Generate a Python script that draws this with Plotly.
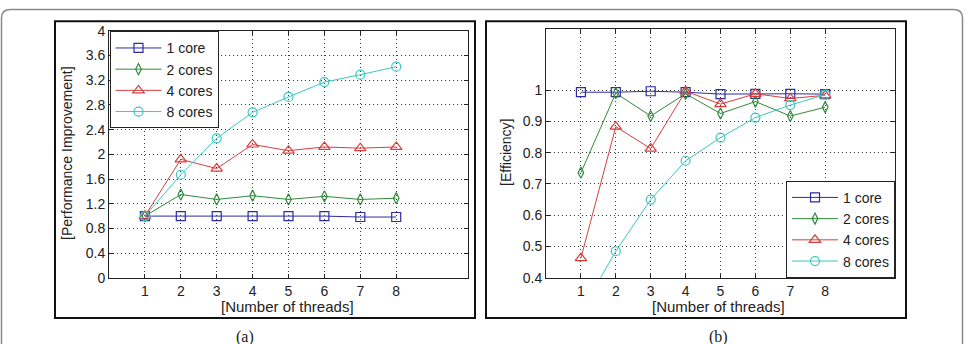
import plotly.graph_objects as go

W, H = 971, 344

threads = [1, 2, 3, 4, 5, 6, 7, 8]
series_names = ["1 core", "2 cores", "4 cores", "8 cores"]

perf_1core = [1.0, 1.0, 1.0, 1.0, 1.0, 1.0, 0.985, 0.985]
perf_2cores = [1.0, 1.35, 1.27, 1.33, 1.27, 1.32, 1.27, 1.29]
perf_4cores = [1.0, 1.92, 1.77, 2.16, 2.06, 2.12, 2.10, 2.12]
perf_8cores = [1.0, 1.67, 2.26, 2.68, 2.93, 3.17, 3.29, 3.42]

eff_1core = [0.993, 0.993, 0.996, 0.993, 0.987, 0.988, 0.988, 0.987]
eff_2cores = [0.736, 0.990, 0.917, 0.988, 0.925, 0.963, 0.917, 0.945]
eff_4cores = [0.463, 0.883, 0.813, 0.996, 0.955, 0.988, 0.973, 0.983]
eff_8cores = [0.29, 0.485, 0.650, 0.774, 0.848, 0.912, 0.952, 0.985]

perf_ticks = [0, 0.4, 0.8, 1.2, 1.6, 2, 2.4, 2.8, 3.2, 3.6, 4]
perf_ticktext = ["0", "0.4", "0.8", "1.2", "1.6", "2", "2.4", "2.8", "3.2", "3.6", "4"]
eff_ticks = [0.4, 0.5, 0.6, 0.7, 0.8, 0.9, 1.0]
eff_ticktext = ["0.4", "0.5", "0.6", "0.7", "0.8", "0.9", "1"]

colors = ["#2c2ca6", "#2e8a3a", "#d63e3e", "#3cc6c0"]
symbols = ["square-open", "diamond-tall-open", "triangle-up-open", "circle-open"]
sizes = [9, 8, 10, 9]

FONT = "Liberation Sans, Arial, sans-serif"
INK = "#222"


def px_x(p):
    return p / W


def px_y(p):
    return 1 - p / H


fig = go.Figure()

perf = [perf_1core, perf_2cores, perf_4cores, perf_8cores]
eff = [eff_1core, eff_2cores, eff_4cores, eff_8cores]

for i in range(4):
    fig.add_trace(go.Scatter(
        x=threads, y=perf[i], name=series_names[i], mode="lines+markers",
        line=dict(color=colors[i], width=1),
        marker=dict(symbol=symbols[i], size=sizes[i], color=colors[i], line=dict(width=1.2, color=colors[i])),
        xaxis="x", yaxis="y", legend="legend", cliponaxis=True,
    ))
for i in range(4):
    fig.add_trace(go.Scatter(
        x=threads, y=eff[i], name=series_names[i], mode="lines+markers",
        line=dict(color=colors[i], width=1),
        marker=dict(symbol=symbols[i], size=sizes[i], color=colors[i], line=dict(width=1.2, color=colors[i])),
        xaxis="x2", yaxis="y2", legend="legend2", cliponaxis=True,
    ))

axis_common = dict(
    showline=True, mirror="ticks", linecolor=INK, linewidth=1,
    showgrid=True, gridcolor="#3a3a3a", griddash="1px,3px", gridwidth=1,
    ticks="inside", ticklen=4, tickcolor=INK,
    zeroline=False, tickfont=dict(family=FONT, size=14, color=INK),
)

legend_common = dict(
    bgcolor="white", bordercolor=INK, borderwidth=1,
    font=dict(family=FONT, size=14, color=INK), tracegroupgap=0,
    itemwidth=46,
)

fig.update_layout(
    width=W, height=H,
    margin=dict(l=0, r=0, t=0, b=0),
    paper_bgcolor="white", plot_bgcolor="white",
    font=dict(family=FONT, size=14, color=INK),
    xaxis=dict(domain=[px_x(109), px_x(468)], range=[0, 10], tickvals=threads,
               anchor="y", **axis_common),
    yaxis=dict(domain=[px_y(283), px_y(24)], range=[0, 4], tickvals=perf_ticks,
               ticktext=perf_ticktext, anchor="x", **axis_common),
    xaxis2=dict(domain=[px_x(546), px_x(895)], range=[0, 10], tickvals=threads,
                anchor="y2", **axis_common),
    yaxis2=dict(domain=[px_y(283), px_y(22)], range=[0.4, 1.195], tickvals=eff_ticks,
                ticktext=eff_ticktext, anchor="x2", **axis_common),
    legend=dict(x=px_x(109.5), y=px_y(24.5), xanchor="left", yanchor="top", **legend_common),
    legend2=dict(x=px_x(895), y=px_y(283), xanchor="right", yanchor="bottom", **legend_common),
    showlegend=True,
)

CAP_FONT = dict(family="Liberation Serif, Times New Roman, serif", size=16, color=INK)
annotations = [
    dict(text="[Performance Improvement]", x=px_x(67), y=px_y(152), textangle=-90),
    dict(text="[Efficiency]", x=px_x(506), y=px_y(151), textangle=-90),
    dict(text="[Number of threads]", x=px_x(287), y=px_y(313), font=dict(family=FONT, size=15, color=INK)),
    dict(text="[Number of threads]", x=px_x(718), y=px_y(313), font=dict(family=FONT, size=15, color=INK)),
    dict(text="(a)", x=px_x(245), y=px_y(345), font=CAP_FONT),
    dict(text="(b)", x=px_x(718), y=px_y(345), font=CAP_FONT),
]
for a in annotations:
    a.setdefault("font", dict(family=FONT, size=14, color=INK))
    fig.add_annotation(xref="paper", yref="paper", showarrow=False,
                       xanchor="center", yanchor="middle", **a)

# panel frames
for x0, x1 in [(55, 475), (486, 906)]:
    fig.add_shape(type="rect", xref="paper", yref="paper",
                  x0=px_x(x0), x1=px_x(x1), y0=px_y(325), y1=px_y(14),
                  line=dict(color="#111", width=2), fillcolor="rgba(0,0,0,0)", layer="above")

# outer rounded border
r = 9
L, R, T, B = 1.5, 962.5, 1.5, 360
path = (f"M {px_x(L)},{px_y(B)} L {px_x(L)},{px_y(T + r)} "
        f"Q {px_x(L)},{px_y(T)} {px_x(L + r)},{px_y(T)} "
        f"L {px_x(R - r)},{px_y(T)} Q {px_x(R)},{px_y(T)} {px_x(R)},{px_y(T + r)} "
        f"L {px_x(R)},{px_y(B)}")
fig.add_shape(type="path", xref="paper", yref="paper", path=path,
              line=dict(color="#8a8a8a", width=1.5), layer="above")

fig.write_html("out.html")
